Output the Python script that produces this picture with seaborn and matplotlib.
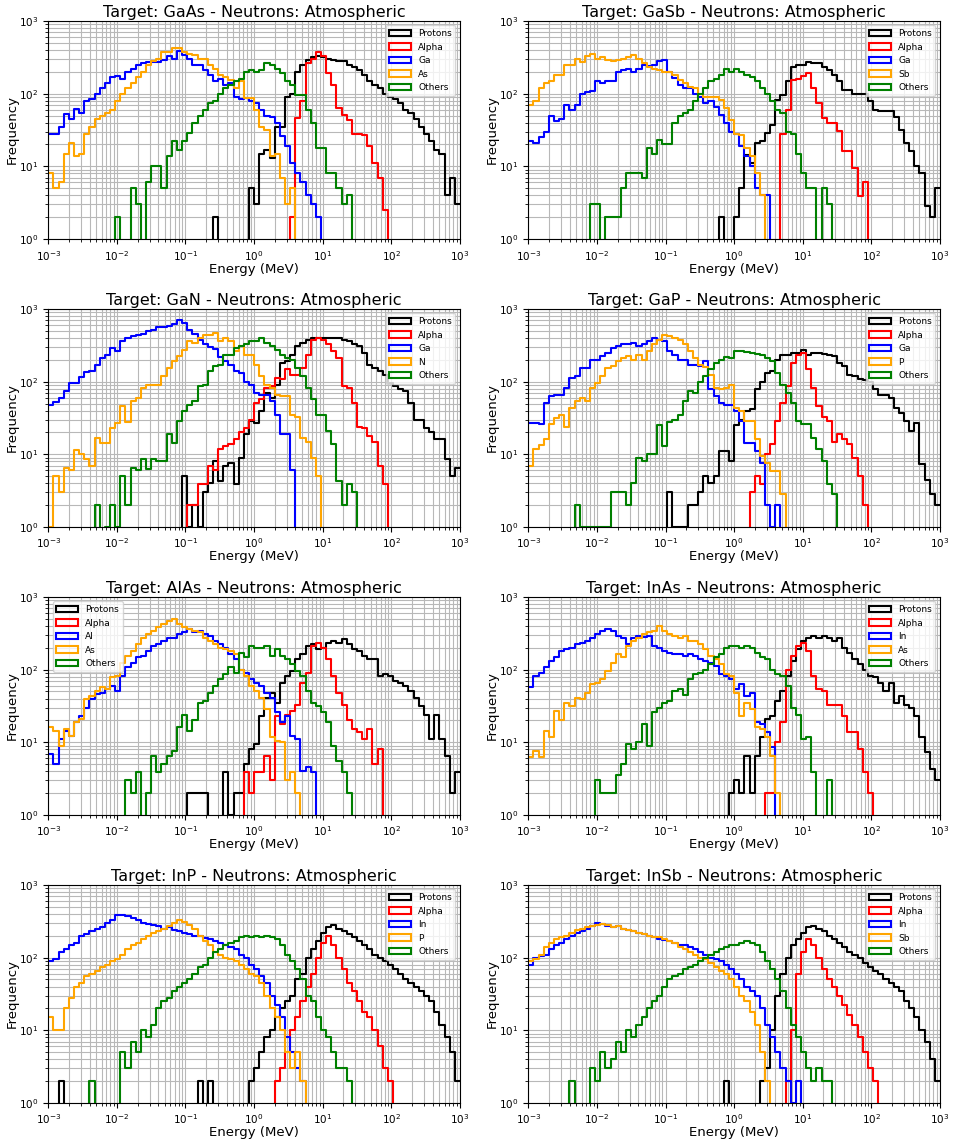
import matplotlib
matplotlib.use("Agg")
import matplotlib.pyplot as plt
from matplotlib.patches import Patch
from matplotlib.ticker import LogLocator, NullFormatter
import numpy as np
import seaborn as sns

# histogram binning: 80 log-spaced bins between 1e-3 and 1e3 MeV
N_BINS = 80
LOG_RANGE = (-3, 3)

# counts per bin, bins without entries left out at the end
GAAS_PROTONS = [0] * 32 + [2] + [0] * 6 + [5, 3, 15, 17, 13, 35, 35, 90, 100, 200, 250, 290, 320, 330, 320, 300, 290, 285, 280, 250, 230, 210, 180, 150, 130, 120, 100, 90, 85, 75, 60, 55, 45, 35, 28, 22, 17, 15, 4, 7, 3]
GAAS_ALPHA = [0] * 47 + [2, 46, 80, 260, 300, 370, 330, 190, 130, 63, 51, 44, 28, 28, 27, 19, 11, 7, 2.5]
GAAS_GA = [28, 28, 35, 52, 45, 62, 55, 80, 85, 100, 120, 140, 170, 175, 160, 200, 220, 250, 260, 270, 270, 275, 290, 330, 300, 390, 340, 300, 250, 250, 210, 180, 150, 160, 130, 140, 90, 85, 88, 80, 75, 60, 50, 48, 39, 26, 19, 11, 8, 6, 4, 3, 2]
GAAS_AS = [8, 5, 6, 15, 21, 14, 15, 28, 35, 45, 50, 55, 60, 80, 100, 120, 140, 170, 200, 250, 280, 300, 380, 380, 430, 430, 380, 350, 340, 300, 300, 250, 220, 180, 170, 155, 118, 147, 87, 87, 60, 35, 32, 14, 15, 7, 3, 5]
GAAS_OTHERS = [0] * 13 + [2, 0, 0, 5, 3, 0, 6, 10, 10, 5, 14, 22, 17, 22, 29, 40, 50, 60, 75, 80, 100, 120, 130, 150, 160, 200, 210, 200, 210, 260, 250, 220, 190, 150, 130, 95, 95, 60, 40, 18, 18, 8, 8, 5, 3, 4]

GASB_PROTONS = [0] * 37 + [2, 0, 0, 2, 5, 14.5, 11, 21, 22, 28.5, 37, 82, 96, 147, 235, 250, 250, 276, 260, 260, 235, 210, 180, 147, 113, 113, 100, 100, 100, 78, 60, 57, 57, 57, 48, 32, 21, 16, 10, 8, 2.8, 2, 5]
GASB_ALPHA = [0] * 49 + [28, 60, 155, 160, 175, 190, 120, 74, 46, 40, 40, 31, 16, 16, 9.5, 3.9, 6]
GASB_GA = [22, 21, 25, 30, 50, 42, 45, 70, 60, 70, 100, 105, 110, 150, 140, 150, 150, 200, 210, 220, 200, 220, 250, 240, 250, 280, 290, 200, 163, 130, 118, 118, 100, 91, 74, 78, 66, 51, 40, 30, 28, 19, 14, 10, 5, 4, 4]
GASB_SB = [70, 80, 120, 140, 150, 180, 180, 250, 250, 300, 270, 330, 350, 300, 320, 290, 280, 290, 300, 320, 340, 300, 260, 230, 220, 210, 200, 200, 180, 155, 140, 125, 118, 100, 91, 91, 91, 82, 63, 44, 28, 27, 18, 14, 8, 4]
GASB_OTHERS = [0] * 12 + [3, 3, 0, 2, 2, 2, 5, 8, 8, 8, 7, 18, 15, 23, 20, 20, 40, 50, 55, 60, 80, 100, 120, 150, 160, 180, 220, 200, 220, 200, 180, 170, 150, 120, 100, 80, 60, 55, 30, 28, 15, 8, 5, 5, 0, 5, 3]

GAN_PROTONS = [0] * 26 + [5, 1, 2, 1, 3, 4, 8, 4.3, 7, 7.7, 3.9, 9, 19, 28.5, 27, 40, 70, 60, 91, 180, 190, 235, 305, 340, 380, 400, 400, 400, 400, 400, 400, 380, 360, 325, 305, 250, 170, 155, 139, 125, 96, 87, 80, 74, 51, 30, 30, 23, 20, 16, 16, 8.5, 5, 6.5]
GAN_ALPHA = [0] * 27 + [2, 2, 3.9, 3.9, 7, 6, 11.7, 13, 14, 16, 20, 23, 30, 51, 57, 82, 87, 113, 107, 147, 125, 125, 155, 235, 380, 400, 380, 325, 260, 210, 87, 82, 51, 24, 23, 18, 15, 7, 3.9]
GAN_GA = [47, 52, 60, 75, 95, 95, 115, 135, 140, 170, 210, 230, 290, 260, 360, 400, 430, 440, 450, 500, 520, 560, 570, 580, 620, 700, 640, 520, 450, 380, 330, 300, 280, 220, 190, 170, 140, 130, 100, 90, 70, 66, 66, 54, 35, 19, 19, 6]
GAN_N = [1, 5, 3, 6.5, 6, 11.5, 10, 8.5, 7, 17, 14.5, 14.5, 23, 27, 46, 28, 54, 60, 82, 91, 91, 91, 118, 155, 190, 225, 276, 360, 340, 400, 445, 445, 470, 360, 400, 360, 260, 305, 235, 235, 170, 118, 91, 82, 66, 63, 63, 35, 33, 17, 15, 9, 5]
GAN_OTHERS = [0] * 9 + [2, 0, 1, 2, 1, 5, 2, 6.5, 6, 8.5, 6.2, 8.5, 8, 8, 19, 14.5, 28.5, 39, 48, 54, 87, 91, 139, 163, 170, 235, 235, 290, 305, 325, 360, 360, 400, 340, 305, 276, 235, 210, 200, 155, 118, 82, 57, 35, 35, 21, 14, 4.3, 2, 3.9, 3]

GAP_PROTONS = [0] * 27 + [3, 1, 1, 1, 2, 2, 3, 5, 4, 5, 11, 11, 8, 25, 30, 40, 42, 80, 100, 130, 140, 200, 230, 235, 250, 250, 276, 235, 250, 250, 240, 235, 225, 180, 163, 125, 118, 107, 105, 100, 78, 66, 66, 60, 44, 37, 28.5, 21, 27, 7.3, 4.5, 2.8, 2]
GAP_ALPHA = [0] * 43 + [3, 5, 3.9, 10, 13.7, 28.5, 51, 87, 180, 235, 250, 150, 82, 46, 33, 28.5, 15, 19, 16, 13.7, 9, 5, 2]
GAP_GA = [27, 27, 26, 51, 63, 66, 66, 82, 113, 118, 155, 155, 200, 200, 225, 250, 290, 305, 325, 325, 340, 305, 325, 360, 400, 380, 360, 260, 235, 200, 200, 170, 170, 163, 190, 78, 63, 51, 48, 48, 39, 28.5, 14.5, 14.5, 11, 7.7, 2, 1, 2]
GAP_P = [7, 12, 13.5, 16, 26, 32, 35, 24, 44, 54, 60, 54, 82, 96, 118, 155, 163, 190, 210, 225, 200, 235, 200, 260, 325, 380, 445, 425, 400, 380, 325, 260, 210, 170, 160, 125, 82, 78, 82, 91, 44, 39, 28.5, 28.5, 16, 9.5, 7.7, 5.9, 5.9, 2.8]
GAP_OTHERS = [0] * 9 + [2, 1, 1, 1, 1, 1, 1, 3, 3, 3, 2, 4, 9, 8, 10, 10, 25, 13, 28, 30, 35, 55, 75, 70, 100, 120, 150, 180, 200, 220, 210, 260, 260, 255, 250, 240, 230, 210, 190, 130, 91, 70, 51, 28.5, 26, 26, 17, 12, 8, 3.9, 2.8]

ALAS_PROTONS = [0] * 27 + [2, 2, 2, 2, 0, 0, 0, 3.9, 1, 2, 2, 5, 8, 9.5, 23, 41, 48, 35, 66, 82, 96, 139, 163, 210, 225, 190, 200, 235, 250, 235, 260, 225, 190, 180, 155, 139, 139, 82, 87, 82, 70, 66, 60, 51, 41, 32, 24, 11, 24, 11, 6.5, 2, 3.9]
ALAS_ALPHA = [0] * 38 + [3.9, 2, 3.9, 3.9, 6.5, 3, 23, 18, 24, 27, 33, 66, 91, 210, 235, 200, 139, 82, 48, 33, 20, 15, 13.7, 11, 15, 5, 8]
ALAS_AL = [7, 5, 11, 14.5, 12.4, 19, 23, 30, 39, 46, 48, 54, 60, 51, 82, 107, 125, 147, 155, 180, 210, 225, 250, 276, 276, 305, 325, 360, 325, 340, 305, 290, 250, 225, 200, 163, 139, 100, 91, 74, 66, 60, 48, 41, 26, 19, 23, 12.4, 11, 4, 4.5, 3.9]
ALAS_AS = [16, 14.5, 9, 15, 12.4, 19, 21, 39, 44, 51, 57, 54, 78, 82, 125, 155, 180, 225, 276, 305, 340, 380, 425, 465, 490, 425, 380, 360, 340, 325, 276, 250, 225, 200, 190, 180, 163, 100, 82, 60, 51, 41, 28.5, 11.7, 10.5, 10, 3, 3.9, 2]
ALAS_OTHERS = [0] * 15 + [3, 2, 3.9, 0, 2, 6.5, 3.9, 5, 6.5, 7.6, 16, 24, 14.5, 20, 35, 37, 48, 60, 74, 87, 107, 91, 170, 147, 210, 200, 200, 210, 155, 190, 155, 139, 118, 96, 82, 51, 35, 32, 26, 19, 9, 5.6, 3.9, 2]

INAS_PROTONS = [0] * 39 + [2, 3, 2, 6.5, 2, 6.5, 12, 21, 23, 37, 51, 82, 130, 190, 250, 276, 290, 276, 290, 276, 250, 276, 200, 170, 139, 118, 100, 82, 78, 66, 51, 66, 35, 44, 33, 30, 23, 11.7, 7.3, 4.3, 3]
INAS_ALPHA = [0] * 46 + [2, 2, 10, 19, 100, 155, 210, 235, 180, 82, 54, 51, 33, 33, 33, 23, 13.7, 13.7, 8, 3.9, 2]
INAS_IN = [57, 82, 91, 107, 130, 147, 180, 190, 200, 225, 235, 250, 276, 305, 340, 360, 340, 290, 276, 225, 276, 290, 280, 290, 210, 200, 180, 170, 163, 163, 155, 163, 155, 139, 130, 125, 113, 87, 82, 74, 54, 63, 44, 48, 19, 18, 13.7, 8.5]
INAS_AS = [6.2, 7.6, 6.2, 14.5, 11.7, 27, 20, 35, 32, 41, 39, 48, 63, 66, 74, 96, 125, 163, 147, 210, 250, 276, 305, 325, 340, 400, 340, 305, 290, 276, 290, 250, 250, 225, 190, 155, 139, 118, 87, 82, 48, 23, 35, 28.5, 16, 15, 11.7, 6.5, 2]
INAS_OTHERS = [0] * 13 + [3, 2, 2, 2, 3.6, 5, 9.5, 8, 10, 18, 9, 26, 30, 35, 37, 51, 54, 45, 74, 87, 91, 100, 118, 147, 163, 200, 210, 210, 200, 210, 200, 170, 147, 139, 100, 87, 82, 60, 30, 24, 11, 11.7, 3.9, 0, 0, 3]

INP_PROTONS = [0] * 2 + [2] + [0] * 26 + [2, 0, 2] + [0] * 7 + [2, 3, 5, 8, 10, 15, 20, 25, 30, 50, 60, 100, 130, 170, 220, 260, 280, 250, 230, 210, 190, 170, 150, 130, 110, 100, 90, 80, 70, 60, 50, 45, 40, 35, 30, 25, 18, 12, 8, 5, 2]
INP_ALPHA = [0] * 44 + [2, 3, 5, 10, 15, 25, 40, 60, 100, 160, 200, 150, 100, 70, 45, 35, 25, 18, 15, 10, 6, 3, 2]
INP_IN = [90, 95, 120, 130, 150, 160, 200, 210, 230, 250, 260, 300, 330, 380, 390, 370, 350, 330, 300, 290, 280, 270, 250, 260, 240, 230, 220, 210, 200, 200, 185, 180, 170, 160, 150, 140, 130, 110, 100, 80, 70, 55, 45, 30, 22, 15, 8, 5, 3, 2]
INP_P = [15, 10, 10, 20, 28, 40, 45, 55, 60, 65, 75, 80, 90, 95, 110, 130, 150, 160, 180, 200, 220, 230, 250, 270, 300, 330, 310, 280, 250, 200, 170, 150, 120, 110, 100, 95, 90, 80, 70, 60, 55, 45, 30, 20, 15, 10, 5, 3, 5, 2]
INP_OTHERS = [0] * 8 + [2] + [0] * 5 + [5, 3, 7, 5, 10, 8, 12, 20, 25, 28, 35, 40, 45, 50, 60, 75, 80, 100, 120, 130, 150, 160, 170, 190, 200, 190, 200, 195, 200, 190, 180, 150, 110, 90, 70, 50, 30, 25, 15, 10, 8, 5, 3, 3, 2]

INSB_PROTONS = [0] * 38 + [2] + [0] * 6 + [2, 3, 10, 30, 60, 100, 150, 180, 220, 260, 270, 250, 230, 200, 180, 160, 140, 120, 110, 100, 85, 75, 65, 60, 50, 45, 40, 35, 25, 20, 15, 10, 7, 4, 2]
INSB_ALPHA = [0] * 50 + [2, 10, 60, 120, 180, 150, 100, 70, 50, 40, 30, 22, 16, 12, 8, 5, 3, 2]
INSB_IN = [80, 100, 105, 110, 130, 150, 160, 180, 200, 220, 230, 250, 270, 300, 290, 270, 260, 270, 250, 240, 230, 220, 210, 200, 190, 180, 175, 170, 160, 150, 150, 140, 130, 120, 110, 100, 95, 90, 80, 70, 60, 50, 40, 35, 30, 20, 12, 8, 5, 3, 2, 1, 2]
INSB_SB = [90, 95, 110, 140, 160, 180, 190, 200, 220, 240, 250, 260, 270, 280, 290, 280, 260, 270, 250, 240, 230, 220, 210, 200, 190, 190, 180, 170, 160, 140, 130, 120, 110, 100, 95, 85, 75, 65, 60, 50, 40, 30, 25, 18, 12, 5, 2]
INSB_OTHERS = [0] * 8 + [2, 0, 0, 0] + [3, 2, 5, 3, 4, 7, 5, 10, 8, 12, 15, 20, 25, 30, 40, 50, 55, 60, 70, 75, 80, 90, 100, 110, 120, 130, 140, 150, 150, 160, 170, 160, 150, 120, 90, 70, 50, 35, 20, 12, 8, 5, 3, 2, 3, 2, 2]

TARGETS = ["GaAs", "GaSb", "GaN", "GaP", "AlAs", "InAs", "InP", "InSb"]
ELEMENTS = [("Ga", "As"), ("Ga", "Sb"), ("Ga", "N"), ("Ga", "P"),
            ("Al", "As"), ("In", "As"), ("In", "P"), ("In", "Sb")]
SERIES = [
    [GAAS_PROTONS, GAAS_ALPHA, GAAS_GA, GAAS_AS, GAAS_OTHERS],
    [GASB_PROTONS, GASB_ALPHA, GASB_GA, GASB_SB, GASB_OTHERS],
    [GAN_PROTONS, GAN_ALPHA, GAN_GA, GAN_N, GAN_OTHERS],
    [GAP_PROTONS, GAP_ALPHA, GAP_GA, GAP_P, GAP_OTHERS],
    [ALAS_PROTONS, ALAS_ALPHA, ALAS_AL, ALAS_AS, ALAS_OTHERS],
    [INAS_PROTONS, INAS_ALPHA, INAS_IN, INAS_AS, INAS_OTHERS],
    [INP_PROTONS, INP_ALPHA, INP_IN, INP_P, INP_OTHERS],
    [INSB_PROTONS, INSB_ALPHA, INSB_IN, INSB_SB, INSB_OTHERS],
]
COLORS = ["black", "red", "blue", "orange", "green"]
LEGEND_LOC = ["upper right"] * 4 + ["upper left"] + ["upper right"] * 3


def full(counts):
    # pad with empty bins up to N_BINS
    return np.array(counts + [0] * (N_BINS - len(counts)), dtype=float)[:N_BINS]


log_edges = np.linspace(LOG_RANGE[0], LOG_RANGE[1], N_BINS + 1)
centers = 10 ** ((log_edges[:-1] + log_edges[1:]) / 2)

fig, axes = plt.subplots(4, 2, figsize=(9.54, 11.4), dpi=100)
fig.subplots_adjust(left=0.0506, right=0.9853, bottom=0.0325, top=0.9816,
                    wspace=0.166, hspace=0.321)

for ax, target, elems, series, loc in zip(axes.flat, TARGETS, ELEMENTS, SERIES, LEGEND_LOC):
    labels = ["Protons", "Alpha", elems[0], elems[1], "Others"]
    handles = []
    for label, counts, color in zip(labels, series, COLORS):
        sns.histplot(x=centers, weights=full(counts), bins=N_BINS, binrange=LOG_RANGE,
                     log_scale=True, element="step", fill=False, color=color,
                     linewidth=1.5, ax=ax)
        handles.append(Patch(facecolor="none", edgecolor=color, linewidth=1.5, label=label))

    ax.set_yscale("log")
    ax.set_xticks(10.0 ** np.arange(-3, 4))
    ax.set_yticks(10.0 ** np.arange(0, 4))
    ax.xaxis.set_minor_locator(LogLocator(base=10, subs=np.arange(2, 10), numticks=200))
    ax.yaxis.set_minor_locator(LogLocator(base=10, subs=np.arange(2, 10), numticks=200))
    ax.xaxis.set_minor_formatter(NullFormatter())
    ax.yaxis.set_minor_formatter(NullFormatter())
    ax.set_xlim(1e-3, 1e3)
    ax.set_ylim(1, 1e3)
    ax.grid(True, which="both", color="0.72", linewidth=0.8)
    ax.set_axisbelow(True)
    ax.set_title(f"Target: {target} - Neutrons: Atmospheric", fontsize=11.5, pad=3)
    ax.set_xlabel("Energy (MeV)", fontsize=9.5, labelpad=0)
    ax.set_ylabel("Frequency", fontsize=9.5, labelpad=0)
    ax.tick_params(labelsize=7.5)
    ax.legend(handles=handles, loc=loc, fontsize=6.5, handlelength=2.4, framealpha=0.8)

fig.savefig("out.png", dpi=100)
